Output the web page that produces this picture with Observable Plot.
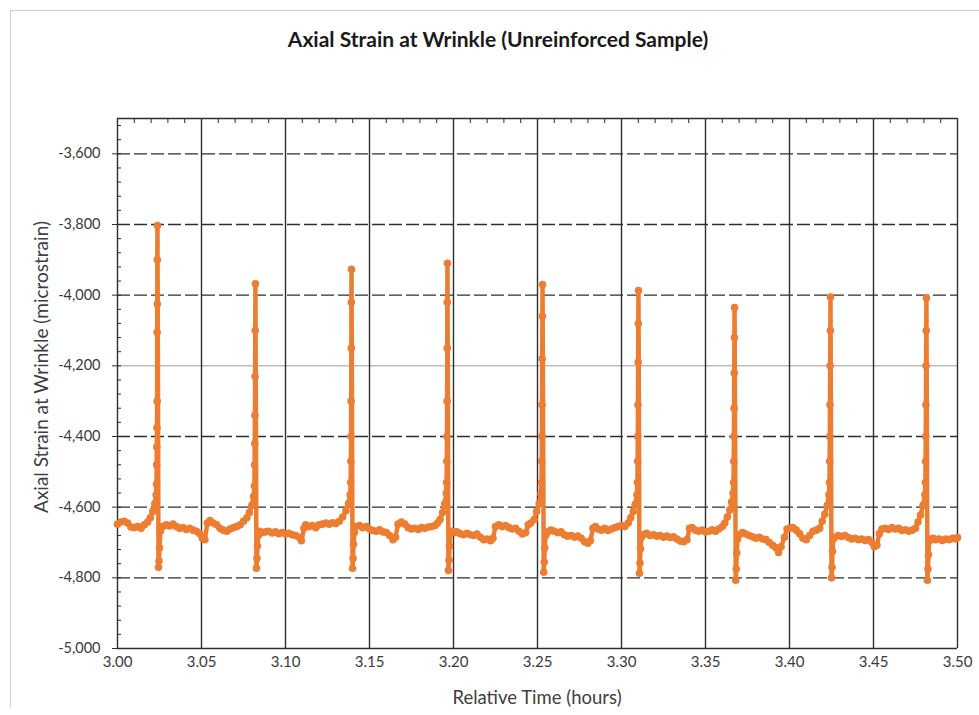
<!DOCTYPE html>
<html>
<head>
<meta charset="utf-8">
<script src="https://cdn.jsdelivr.net/npm/d3@7"></script>
<script src="https://cdn.jsdelivr.net/npm/@observablehq/plot@0.6"></script>
<style>
  html, body { margin: 0; padding: 0; background: #fff; }
  #wrap { position: relative; width: 979px; height: 715px; overflow: hidden; font-family: Lato, "Open Sans", sans-serif; }
  #border { position: absolute; left: 10px; top: 10px; right: -5px; bottom: 8px; border-top: 1px solid #cfcfcf; border-left: 1px solid #cfcfcf; }
  #title { position: absolute; left: 0; width: 996px; top: 26px; text-align: center; font-weight: bold; font-size: 21px; color: #1a1a1a; }
  #ylab { position: absolute; left: 40px; top: 367px; transform: translate(-50%, -50%) rotate(-90deg); white-space: nowrap; font-size: 19px; color: #404040; }
  #xlab { position: absolute; left: 537px; top: 697px; transform: translate(-50%, -50%); white-space: nowrap; font-size: 18.5px; color: #404040; }
  #chart { position: absolute; left: 0; top: 0; }
</style>
</head>
<body>
<div id="wrap">
  <div id="border"></div>
  <div id="chart"></div>
  <div id="title">Axial Strain at Wrinkle (Unreinforced Sample)</div>
  <div id="ylab">Axial Strain at Wrinkle (microstrain)</div>
  <div id="xlab">Relative Time (hours)</div>
</div>
<script>
// Relative time (hours), axial strain (microstrain)
const samples = [
  // before spike 1
  [3.0000,-4648],[3.0020,-4642],[3.0040,-4640],[3.0060,-4645],[3.0080,-4656],[3.0100,-4658],[3.0120,-4655],
  [3.0140,-4660],[3.0160,-4650],[3.0180,-4642],[3.0195,-4630],[3.0210,-4612],[3.0222,-4590],[3.0230,-4565],
  // spike 1
  [3.0232,-4535],[3.0233,-4480],[3.0234,-4430],[3.0235,-4375],[3.0236,-4300],[3.0236,-4105],[3.0237,-4025],
  [3.0237,-3900],[3.0238,-3803],[3.0244,-4770],[3.0247,-4752],[3.0250,-4715],[3.0255,-4668],
  // cycle 1
  [3.0270,-4655],[3.0290,-4650],[3.0310,-4653],[3.0330,-4648],[3.0350,-4655],[3.0370,-4660],[3.0390,-4658],
  [3.0410,-4663],[3.0430,-4660],[3.0450,-4665],[3.0470,-4668],[3.0490,-4675],[3.0505,-4688],[3.0520,-4692],
  [3.0535,-4645],[3.0550,-4638],[3.0570,-4645],[3.0590,-4650],[3.0610,-4660],[3.0630,-4665],[3.0650,-4668],
  [3.0670,-4662],[3.0690,-4658],[3.0710,-4655],[3.0730,-4650],[3.0750,-4640],[3.0770,-4630],[3.0785,-4615],
  [3.0800,-4595],[3.0810,-4570],
  // spike 2
  [3.0815,-4540],[3.0816,-4480],[3.0817,-4420],[3.0818,-4340],[3.0819,-4230],[3.0820,-4100],[3.0821,-3968],
  [3.0827,-4773],[3.0830,-4745],[3.0833,-4710],[3.0838,-4680],
  // cycle 2
  [3.0845,-4668],[3.0860,-4672],[3.0880,-4670],[3.0900,-4668],[3.0920,-4673],[3.0940,-4670],[3.0960,-4675],
  [3.0980,-4672],[3.1000,-4676],[3.1020,-4674],[3.1040,-4678],[3.1060,-4680],[3.1080,-4685],[3.1095,-4695],
  [3.1110,-4660],[3.1120,-4650],[3.1140,-4655],[3.1160,-4652],[3.1180,-4658],[3.1200,-4650],[3.1220,-4648],
  [3.1240,-4645],[3.1260,-4648],[3.1280,-4644],[3.1300,-4646],[3.1320,-4640],[3.1340,-4628],[3.1360,-4610],
  [3.1375,-4590],[3.1385,-4565],
  // spike 3
  [3.1388,-4530],[3.1389,-4470],[3.1390,-4400],[3.1391,-4300],[3.1392,-4150],[3.1392,-4020],[3.1393,-3927],
  [3.1399,-4773],[3.1402,-4745],[3.1405,-4705],[3.1410,-4672],
  // cycle 3
  [3.1420,-4655],[3.1440,-4652],[3.1460,-4658],[3.1480,-4655],[3.1500,-4662],[3.1520,-4666],[3.1540,-4668],
  [3.1560,-4664],[3.1580,-4670],[3.1600,-4672],[3.1620,-4680],[3.1640,-4692],[3.1655,-4685],[3.1670,-4648],
  [3.1690,-4642],[3.1710,-4648],[3.1730,-4658],[3.1750,-4662],[3.1770,-4660],[3.1790,-4663],[3.1810,-4658],
  [3.1830,-4660],[3.1850,-4656],[3.1870,-4655],[3.1890,-4652],[3.1905,-4645],[3.1920,-4635],[3.1935,-4615],
  [3.1948,-4590],[3.1957,-4560],
  // spike 4
  [3.1959,-4530],[3.1960,-4470],[3.1961,-4400],[3.1962,-4300],[3.1963,-4150],[3.1963,-4020],[3.1964,-3910],
  [3.1970,-4779],[3.1973,-4750],[3.1976,-4710],[3.1981,-4675],
  // cycle 4
  [3.1990,-4668],[3.2005,-4672],[3.2020,-4670],[3.2040,-4675],[3.2060,-4678],[3.2080,-4674],[3.2100,-4678],
  [3.2120,-4680],[3.2140,-4676],[3.2160,-4685],[3.2180,-4692],[3.2200,-4690],[3.2220,-4695],[3.2235,-4688],
  [3.2250,-4655],[3.2270,-4650],[3.2290,-4655],[3.2310,-4652],[3.2330,-4658],[3.2350,-4662],[3.2370,-4660],
  [3.2390,-4668],[3.2410,-4676],[3.2430,-4672],[3.2445,-4650],[3.2460,-4645],[3.2480,-4635],[3.2495,-4612],
  [3.2510,-4590],[3.2520,-4562],
  // spike 5
  [3.2524,-4530],[3.2525,-4470],[3.2526,-4400],[3.2527,-4310],[3.2528,-4180],[3.2529,-4060],[3.2530,-3970],
  [3.2537,-4784],[3.2540,-4755],[3.2543,-4715],[3.2548,-4680],
  // cycle 5
  [3.2560,-4670],[3.2580,-4665],[3.2600,-4668],[3.2620,-4672],[3.2640,-4670],[3.2660,-4678],[3.2680,-4682],
  [3.2700,-4680],[3.2720,-4685],[3.2740,-4682],[3.2760,-4688],[3.2780,-4698],[3.2800,-4702],[3.2815,-4695],
  [3.2830,-4660],[3.2845,-4655],[3.2860,-4662],[3.2880,-4665],[3.2900,-4660],[3.2920,-4666],[3.2940,-4662],
  [3.2960,-4658],[3.2980,-4655],[3.3000,-4652],[3.3020,-4655],[3.3040,-4645],[3.3055,-4630],[3.3070,-4612],
  [3.3082,-4592],[3.3092,-4565],
  // spike 6
  [3.3095,-4530],[3.3096,-4470],[3.3097,-4400],[3.3098,-4310],[3.3099,-4190],[3.3100,-4080],[3.3101,-3987],
  [3.3107,-4787],[3.3110,-4758],[3.3113,-4718],[3.3118,-4685],
  // cycle 6
  [3.3130,-4678],[3.3150,-4674],[3.3170,-4680],[3.3190,-4678],[3.3210,-4682],[3.3230,-4680],[3.3250,-4685],
  [3.3270,-4682],[3.3290,-4686],[3.3310,-4684],[3.3330,-4690],[3.3350,-4696],[3.3370,-4698],[3.3390,-4692],
  [3.3405,-4660],[3.3420,-4658],[3.3440,-4665],[3.3460,-4668],[3.3480,-4665],[3.3500,-4670],[3.3520,-4668],
  [3.3540,-4664],[3.3560,-4668],[3.3580,-4662],[3.3600,-4655],[3.3615,-4645],[3.3630,-4628],[3.3645,-4608],
  [3.3655,-4585],[3.3664,-4560],
  // spike 7
  [3.3667,-4530],[3.3668,-4470],[3.3669,-4400],[3.3670,-4320],[3.3671,-4220],[3.3672,-4120],[3.3673,-4035],
  [3.3680,-4807],[3.3683,-4775],[3.3686,-4730],[3.3691,-4690],
  // cycle 7
  [3.3700,-4678],[3.3720,-4672],[3.3740,-4676],[3.3760,-4680],[3.3780,-4684],[3.3800,-4688],[3.3820,-4685],
  [3.3840,-4690],[3.3860,-4692],[3.3880,-4700],[3.3900,-4708],[3.3920,-4715],[3.3935,-4728],[3.3950,-4712],
  [3.3970,-4685],[3.3985,-4662],[3.4000,-4660],[3.4020,-4658],[3.4040,-4665],[3.4060,-4675],[3.4080,-4688],
  [3.4100,-4692],[3.4120,-4680],[3.4140,-4668],[3.4160,-4665],[3.4180,-4660],[3.4195,-4640],[3.4210,-4620],
  [3.4225,-4595],[3.4235,-4565],
  // spike 8
  [3.4238,-4530],[3.4239,-4470],[3.4240,-4400],[3.4241,-4310],[3.4242,-4200],[3.4243,-4100],[3.4244,-4005],
  [3.4250,-4800],[3.4253,-4770],[3.4256,-4725],[3.4261,-4690],
  // cycle 8
  [3.4270,-4685],[3.4290,-4680],[3.4310,-4683],[3.4330,-4680],[3.4350,-4686],[3.4370,-4690],[3.4390,-4688],
  [3.4410,-4692],[3.4430,-4690],[3.4450,-4694],[3.4470,-4692],[3.4490,-4700],[3.4505,-4712],[3.4520,-4708],
  [3.4535,-4675],[3.4550,-4662],[3.4570,-4660],[3.4590,-4663],[3.4610,-4658],[3.4630,-4662],[3.4650,-4660],
  [3.4670,-4666],[3.4690,-4664],[3.4710,-4668],[3.4730,-4665],[3.4750,-4660],[3.4765,-4642],[3.4780,-4622],
  [3.4795,-4595],[3.4806,-4565],
  // spike 9
  [3.4809,-4530],[3.4810,-4470],[3.4811,-4400],[3.4812,-4310],[3.4813,-4200],[3.4814,-4100],[3.4815,-4008],
  [3.4821,-4807],[3.4824,-4775],[3.4827,-4735],[3.4832,-4695],
  // after spike 9
  [3.4840,-4690],[3.4855,-4688],[3.4870,-4692],[3.4890,-4690],[3.4910,-4694],[3.4930,-4690],[3.4950,-4692],
  [3.4970,-4688],[3.4990,-4690],[3.5000,-4686]
];

const xTicks = [3.00, 3.05, 3.10, 3.15, 3.20, 3.25, 3.30, 3.35, 3.40, 3.45, 3.50];
const xMinorTicks = d3.range(0, 51).map(i => +(3 + i * 0.01).toFixed(2));
const yTicks = [-5000, -4800, -4600, -4400, -4200, -4000, -3800, -3600];
const yMinorTicks = d3.range(0, 38).map(i => -5000 + i * 40);

const data = samples.map(([t, v]) => ({t, v}));
const orange = "#ED7D31";
const gridColor = "#2e2e2e";
const fmtY = d => (d < 0 ? "-" : "") + d3.format(",")(Math.abs(d));

const chart = Plot.plot({
  width: 979,
  height: 715,
  marginLeft: 117,
  marginRight: 22,
  marginTop: 118,
  marginBottom: 67,
  style: {fontFamily: "Lato, 'Open Sans', sans-serif", background: "transparent"},
  x: {domain: [3, 3.5]},
  y: {domain: [-5000, -3500]},
  marks: [
    Plot.ruleY(yTicks.filter(d => d !== -4200 && d !== -5000), {stroke: gridColor, strokeWidth: 1.4, strokeDasharray: "13,4"}),
    Plot.ruleY([-4200], {stroke: "#9a9a9a", strokeWidth: 1}),
    Plot.ruleY([-5000], {stroke: gridColor, strokeWidth: 1.4}),
    Plot.ruleY([-3500], {stroke: gridColor, strokeWidth: 1.4}),
    Plot.ruleX(xTicks, {stroke: gridColor, strokeWidth: 1.4}),
    Plot.axisY({ticks: yMinorTicks, tickSize: -4, tickFormat: () => "", stroke: gridColor, label: null}),
    Plot.axisX({anchor: "top", ticks: xMinorTicks, tickSize: -4, tickFormat: () => "", stroke: gridColor, label: null}),
    Plot.axisY({ticks: yTicks, tickSize: 5, tickPadding: 12, tickFormat: fmtY, fontSize: 14.5, color: "#3a3a3a", stroke: gridColor, label: null}),
    Plot.axisX({ticks: xTicks, tickSize: 0, tickPadding: 8, tickFormat: d3.format(".2f"), fontSize: 15, color: "#3a3a3a", label: null}),
    Plot.line(data, {x: "t", y: "v", stroke: orange, strokeWidth: 4.5}),
    Plot.dot(data, {x: "t", y: "v", r: 3.8, fill: orange, stroke: "none"})
  ]
});
document.getElementById("chart").appendChild(chart);
</script>
</body>
</html>
